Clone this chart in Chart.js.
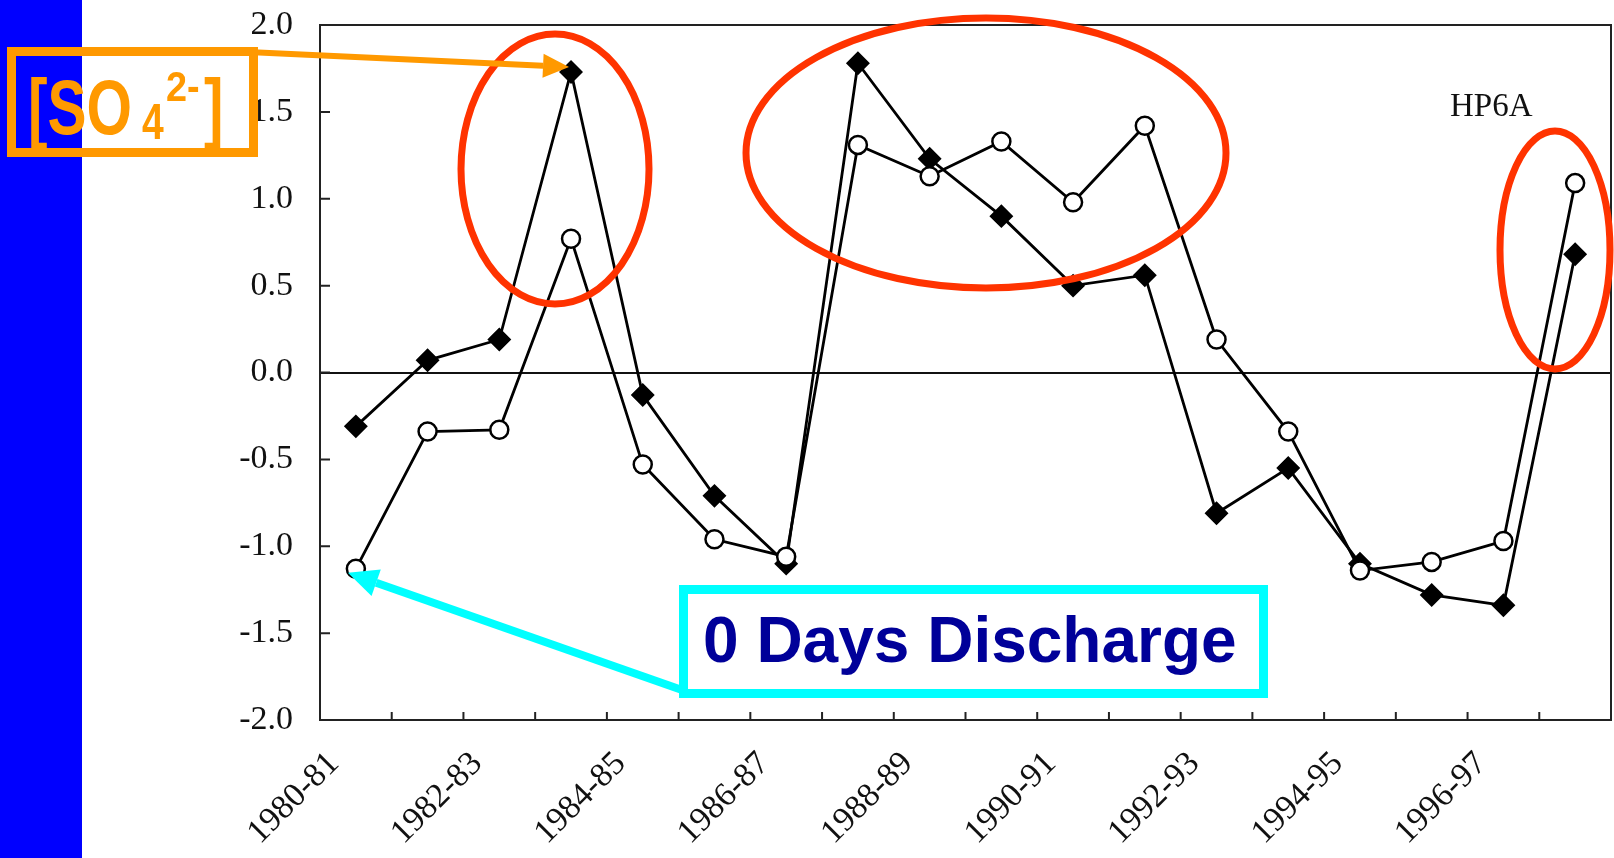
<!DOCTYPE html>
<html lang="en">
<head>
  <meta charset="UTF-8">
  <title>HP6A</title>
  <script src="https://cdn.jsdelivr.net/npm/chart.js"></script>
  <style>
    html, body { margin: 0; padding: 0; background: #fff; }
    canvas { display: block; }
  </style>
</head>
<body>
  <canvas id="myChart" width="1614" height="858"></canvas>

  <script>
    // hydrological years on the x axis
    var seasons = ['1980-81', '1981-82', '1982-83', '1983-84', '1984-85', '1985-86',
                   '1986-87', '1987-88', '1988-89', '1989-90', '1990-91', '1991-92',
                   '1992-93', '1993-94', '1994-95', '1995-96', '1996-97', '1997-98'];
    // only these get a label under the axis
    var tickLabels = ['1980-81', '1982-83', '1984-85', '1986-87', '1988-89',
                      '1990-91', '1992-93', '1994-95', '1996-97'];

    // [SO4 2-] anomaly (filled diamonds)
    var so4 = [-0.31, 0.07, 0.19, 1.73, -0.13, -0.71, -1.10, 1.78, 1.23,
               0.90, 0.50, 0.56, -0.81, -0.55, -1.10, -1.28, -1.34, 0.68];
    // 0 days discharge anomaly (open circles)
    var zeroDays = [-1.13, -0.34, -0.33, 0.77, -0.53, -0.96, -1.06, 1.31, 1.13,
                    1.33, 0.98, 1.42, 0.19, -0.34, -1.14, -1.09, -0.97, 1.09];

    var serif = '"Liberation Serif", "Times New Roman", serif';
    var sans = '"Liberation Sans", Arial, sans-serif';

    function drawText(c, s, x, y, size, sx, color) {
      c.save();
      c.translate(x, y);
      c.scale(sx, 1);
      c.font = 'bold ' + size + 'px ' + sans;
      c.fillStyle = color;
      c.textBaseline = 'alphabetic';
      c.fillText(s, 0, 0);
      c.restore();
    }

    function arrow(c, x1, y1, x2, y2, color, w, headLen, headW) {
      var a = Math.atan2(y2 - y1, x2 - x1);
      var bx = x2 - headLen * Math.cos(a), by = y2 - headLen * Math.sin(a);
      c.strokeStyle = color;
      c.lineWidth = w;
      c.beginPath();
      c.moveTo(x1, y1);
      c.lineTo(bx, by);
      c.stroke();
      c.fillStyle = color;
      c.beginPath();
      c.moveTo(x2, y2);
      c.lineTo(bx + headW * Math.sin(a), by - headW * Math.cos(a));
      c.lineTo(bx - headW * Math.sin(a), by + headW * Math.cos(a));
      c.closePath();
      c.fill();
    }

    var overlay = {
      id: 'overlay',
      beforeDraw: function(chart) {
        var c = chart.ctx;
        c.save();
        c.fillStyle = '#fff';
        c.fillRect(0, 0, chart.width, chart.height);
        c.fillStyle = '#0000ff';
        c.fillRect(0, 0, 82, chart.height);
        c.restore();
      },
      afterDatasetsDraw: function(chart) {
        var c = chart.ctx, a = chart.chartArea;
        var xs = chart.scales.x, ys = chart.scales.y;
        c.save();
        c.strokeStyle = '#222';
        c.lineWidth = 2;
        c.beginPath();
        // frame top and right
        c.moveTo(a.left, a.top);
        c.lineTo(a.right, a.top);
        c.lineTo(a.right, a.bottom);
        // inward ticks
        ys.ticks.forEach(function(t) {
          var p = ys.getPixelForValue(t.value);
          c.moveTo(a.left, p);
          c.lineTo(a.left + 10, p);
        });
        for (var i = 1; i < seasons.length; i++) {
          var p = (xs.getPixelForValue(i - 1) + xs.getPixelForValue(i)) / 2;
          c.moveTo(p, a.bottom);
          c.lineTo(p, a.bottom - 8);
        }
        c.stroke();

        c.fillStyle = '#111';
        c.font = '33px ' + serif;
        c.fillText('HP6A', 1450, 116);
        c.restore();
      },
      afterDraw: function(chart) {
        var c = chart.ctx;
        var xs = chart.scales.x, ys = chart.scales.y;
        c.save();

        // red ellipses
        c.strokeStyle = '#ff3300';
        c.lineWidth = 7;
        [[555, 169, 94, 135], [986, 153, 240, 135], [1555, 250, 55, 119]].forEach(function(e) {
          c.beginPath();
          c.ellipse(e[0], e[1], e[2], e[3], 0, 0, Math.PI * 2);
          c.stroke();
        });

        // orange label + arrow
        var orange = '#ff9900';
        arrow(c, 205, 50, xs.getPixelForValue(3) - 2, ys.getPixelForValue(so4[3]) - 5, orange, 6, 26, 12);
        c.strokeStyle = orange;
        c.lineWidth = 9;
        c.strokeRect(11.5, 51.5, 242, 101);
        drawText(c, '[SO', 28, 134, 78, 0.75, orange);
        drawText(c, '4', 142, 139, 50, 0.78, orange);
        drawText(c, '2-', 166, 101, 42, 0.9, orange);
        drawText(c, ']', 204, 134, 78, 0.75, orange);

        // cyan label + arrow
        var cyan = '#00ffff';
        arrow(c, 682, 690, xs.getPixelForValue(0) - 8, ys.getPixelForValue(zeroDays[0]) + 4, cyan, 8, 30, 14);
        c.fillStyle = '#fff';
        c.fillRect(683.5, 589.5, 580, 104);
        c.strokeStyle = cyan;
        c.lineWidth = 9;
        c.strokeRect(683.5, 589.5, 580, 104);
        drawText(c, '0 Days Discharge', 703, 662, 64, 1, '#000099');

        c.restore();
      }
    };

    var ctx = document.getElementById('myChart').getContext('2d');

    var myChart = new Chart(ctx, {
      type: 'line',
      data: {
        labels: seasons,
        datasets: [{
          label: '0 Days Discharge',
          data: zeroDays,
          borderColor: '#000',
          borderWidth: 2.8,
          pointStyle: 'circle',
          pointRadius: 9,
          pointBorderWidth: 2.5,
          pointBackgroundColor: '#fff',
          pointBorderColor: '#000'
        }, {
          label: '[SO4 2-]',
          data: so4,
          borderColor: '#000',
          borderWidth: 2.8,
          pointStyle: 'rectRot',
          pointRadius: 10,
          pointBackgroundColor: '#000',
          pointBorderColor: '#000'
        }]
      },
      options: {
        responsive: false,
        animation: false,
        layout: { autoPadding: false, padding: { left: 0, top: 25, right: 3, bottom: 0 } },
        plugins: {
          legend: { display: false },
          tooltip: { enabled: false }
        },
        scales: {
          x: {
            offset: true,
            grid: { display: false },
            border: { display: true, color: '#222', width: 2 },
            ticks: {
              autoSkip: false,
              minRotation: 45,
              maxRotation: 45,
              padding: 16,
              labelOffset: -22,
              color: '#111',
              font: { family: serif, size: 34 },
              callback: function(value, index) {
                var s = seasons[index];
                return tickLabels.indexOf(s) >= 0 ? s : '';
              }
            },
            afterFit: function(scale) {
              scale.height = 138;
              scale.paddingRight = 0;
            }
          },
          y: {
            min: -2,
            max: 2,
            ticks: {
              stepSize: 0.5,
              padding: 3,
              color: '#111',
              font: { family: serif, size: 34 },
              callback: function(value) { return value.toFixed(1); }
            },
            grid: {
              drawTicks: true,
              tickLength: 24,
              tickColor: 'rgba(0,0,0,0)',
              lineWidth: 2,
              color: function(c) { return c.tick && c.tick.value === 0 ? '#111' : 'rgba(0,0,0,0)'; }
            },
            border: { display: true, color: '#222', width: 2 },
            afterFit: function(scale) { scale.width = 320; }
          }
        }
      },
      plugins: [overlay]
    });
  </script>
</body>
</html>
